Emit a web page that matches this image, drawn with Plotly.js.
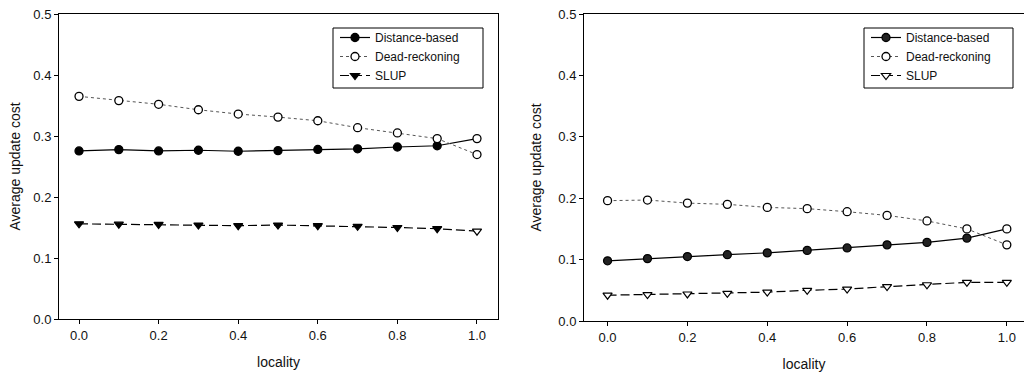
<!DOCTYPE html>
<html>
<head>
<meta charset="utf-8">
<script src="https://cdn.plot.ly/plotly-3.0.1.min.js"></script>
<style>html,body{margin:0;padding:0;background:#fff;}#chart{width:1024px;height:374px;}</style>
</head>
<body>
<div id="chart"></div>
<script>
const locality = [0.0, 0.1, 0.2, 0.3, 0.4, 0.5, 0.6, 0.7, 0.8, 0.9, 1.0];

// Left chart
const leftDistance = [0.2755, 0.2777, 0.2755, 0.2766, 0.2750, 0.2760, 0.2780, 0.2790, 0.2820, 0.2840, 0.2957];
const leftDead     = [0.3650, 0.3580, 0.3520, 0.3430, 0.3360, 0.3310, 0.3250, 0.3136, 0.3050, 0.2957, 0.2696];
const leftSLUP     = [0.1560, 0.1555, 0.1550, 0.1540, 0.1530, 0.1540, 0.1530, 0.1520, 0.1500, 0.1480, 0.1440];

// Right chart
const rightDistance = [0.0980, 0.1016, 0.1050, 0.1080, 0.1110, 0.1150, 0.1190, 0.1240, 0.1280, 0.1350, 0.1500];
const rightDead     = [0.1960, 0.1970, 0.1920, 0.1900, 0.1850, 0.1830, 0.1780, 0.1720, 0.1630, 0.1500, 0.1240];
const rightSLUP     = [0.0420, 0.0430, 0.0440, 0.0450, 0.0470, 0.0500, 0.0520, 0.0560, 0.0590, 0.0630, 0.0630];

const seriesNames = ['Distance-based', 'Dead-reckoning', 'SLUP'];
const xTicks = [0.0, 0.2, 0.4, 0.6, 0.8, 1.0];
const xTickText = ['0.0', '0.2', '0.4', '0.6', '0.8', '1.0'];
const yTicks = [0.0, 0.1, 0.2, 0.3, 0.4, 0.5];
const yTickText = ['0.0', '0.1', '0.2', '0.3', '0.4', '0.5'];

const FONT = 'Liberation Sans, Arial, sans-serif';
const n = locality.length;
function fillArr(c, last) { const a = new Array(n).fill(c); a[n-1] = last; return a; }

function makeTraces(dist, dead, slup, xa, ya, leg, slupFill, distFill) {
  return [
    {x: locality, y: dist, name: seriesNames[0], xaxis: xa, yaxis: ya, legend: leg,
     mode: 'lines+markers', line: {color: '#000', width: 1.2, dash: 'solid'},
     marker: {symbol: 'circle', size: 8, color: fillArr(distFill, '#fff'), line: {color: '#000', width: 1.3}}},
    {x: locality, y: dead, name: seriesNames[1], xaxis: xa, yaxis: ya, legend: leg,
     mode: 'lines+markers', line: {color: '#555', width: 1, dash: 'dot'},
     marker: {symbol: 'circle', size: 8, color: '#fff', line: {color: '#000', width: 1.3}}},
    {x: locality, y: slup, name: seriesNames[2], xaxis: xa, yaxis: ya, legend: leg,
     mode: 'lines+markers', line: {color: '#000', width: 1.2, dash: '9px,4px'},
     marker: {symbol: 'triangle-down', size: 8, color: fillArr(slupFill, '#fff'), line: {color: '#000', width: 1.2}}}
  ];
}

const data = [].concat(
  makeTraces(leftDistance, leftDead, leftSLUP, 'x', 'y', 'legend', '#000', '#000'),
  makeTraces(rightDistance, rightDead, rightSLUP, 'x2', 'y2', 'legend2', '#fff', '#222')
);

function xAxis(domain, range, anchor) {
  return {domain: domain, range: range, anchor: anchor, tickmode: 'array', tickvals: xTicks, ticktext: xTickText,
    ticks: 'outside', ticklen: 4, tickwidth: 1, tickcolor: '#000', showline: true, linecolor: '#000', linewidth: 1,
    mirror: true, showgrid: false, zeroline: false, tickfont: {family: FONT, size: 13, color: '#111'},
    title: {text: 'locality', font: {family: FONT, size: 14, color: '#111'}, standoff: 15}};
}
function yAxis(domain, anchor, standoff) {
  return {domain: domain, range: [0, 0.5], anchor: anchor, tickmode: 'array', tickvals: yTicks, ticktext: yTickText,
    ticks: 'outside', ticklen: 4, tickwidth: 1, tickcolor: '#000', showline: true, linecolor: '#000', linewidth: 1,
    mirror: true, showgrid: false, zeroline: false, tickfont: {family: FONT, size: 13, color: '#111'},
    title: {text: 'Average update cost', font: {family: FONT, size: 14, color: '#111'}, standoff: standoff}};
}

const legendBase = {bgcolor: 'rgba(0,0,0,0)', borderwidth: 0, font: {family: FONT, size: 12, color: '#111'},
  xanchor: 'left', yanchor: 'top', tracegroupgap: 0};

// legend frames (paper coordinates; paper spans y 14..321 px)
function legendBox(x0, x1) {
  return {type: 'rect', xref: 'paper', yref: 'paper', x0: x0, x1: x1, y0: (321-88)/307, y1: (321-28)/307,
    line: {color: '#000', width: 1}, fillcolor: '#fff', layer: 'above'};
}

const layout = {
  width: 1024, height: 374,
  margin: {l: 0, r: 0, t: 14, b: 53},
  paper_bgcolor: '#fff', plot_bgcolor: '#fff',
  showlegend: true,
  xaxis: xAxis([59/1024, 498/1024], [-0.0503, 1.0528], 'y'),
  yaxis: yAxis([2/307, 1], 'x', 9),
  xaxis2: xAxis([584/1024, 1], [-0.059, 1.043], 'y2'),
  yaxis2: yAxis([0, 1], 'x2', 13),
  legend: Object.assign({}, legendBase, {x: 335/1024, y: (321-23)/307}),
  legend2: Object.assign({}, legendBase, {x: 866/1024, y: (321-23)/307}),
  shapes: [legendBox(333/1024, 483/1024), legendBox(864/1024, 1013/1024)]
};

Plotly.newPlot('chart', data, layout, {displayModeBar: false, staticPlot: true});
</script>
</body>
</html>
